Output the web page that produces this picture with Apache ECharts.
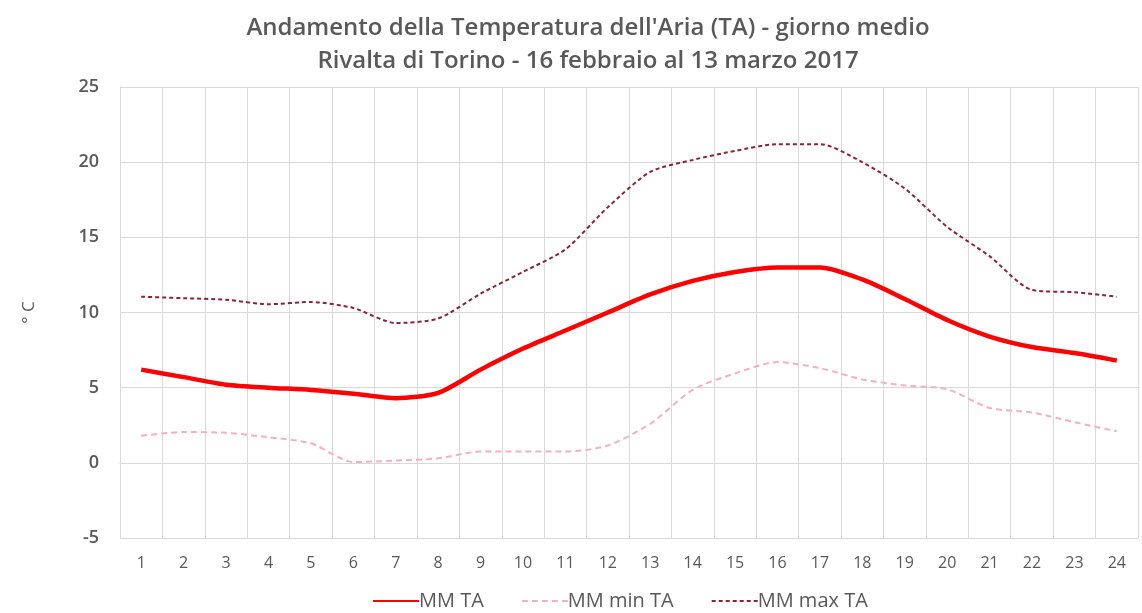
<!DOCTYPE html>
<html>
<head>
<meta charset="utf-8">
<script src="https://cdn.jsdelivr.net/npm/echarts@6/dist/echarts.min.js"></script>
<style>
html,body{margin:0;padding:0;background:#fff;}
#chart{width:1142px;height:613px;}
</style>
</head>
<body>
<div id="chart"></div>
<script>
const categories = ['1','2','3','4','5','6','7','8','9','10','11','12','13','14','15','16','17','18','19','20','21','22','23','24'];
const mmTA    = [6.2, 5.7, 5.2, 5.0, 4.85, 4.6, 4.3, 4.65, 6.2, 7.6, 8.8, 10.0, 11.2, 12.1, 12.7, 13.0, 13.0, 12.2, 10.9, 9.5, 8.4, 7.7, 7.3, 6.8];
const mmMinTA = [1.8, 2.05, 2.0, 1.7, 1.3, 0.05, 0.15, 0.3, 0.75, 0.75, 0.75, 1.15, 2.6, 4.85, 5.95, 6.7, 6.3, 5.55, 5.15, 4.9, 3.65, 3.35, 2.7, 2.1];
const mmMaxTA = [11.05, 10.95, 10.85, 10.55, 10.7, 10.3, 9.3, 9.6, 11.25, 12.7, 14.2, 17.0, 19.35, 20.15, 20.75, 21.2, 21.2, 20.0, 18.25, 15.7, 13.75, 11.5, 11.35, 11.05];
const yTicks = {min: -5, max: 25, interval: 5};

const chart = echarts.init(document.getElementById('chart'));
const fontFam = 'Open Sans';
chart.setOption({
  backgroundColor: '#fff',
  animation: false,
  title: {
    text: "Andamento della Temperatura dell'Aria (TA) - giorno medio\nRivalta di Torino - 16 febbraio al 13 marzo 2017",
    left: 583,
    textAlign: 'center',
    top: 7,
    textStyle: {color: '#595959', fontSize: 24, fontWeight: 600, fontFamily: fontFam, lineHeight: 33}
  },
  legend: {
    top: 586,
    left: 367,
    itemWidth: 46,
    itemHeight: 12,
    itemGap: 37,
    itemStyle: {opacity: 0},
    textStyle: {color: '#595959', fontSize: 20, fontFamily: fontFam, padding: [0, 0, 0, -5]},
    data: ['MM TA', 'MM min TA', 'MM max TA']
  },
  grid: {left: 120, right: 4, top: 87, bottom: 75},
  xAxis: {
    type: 'category',
    data: categories,
    boundaryGap: true,
    axisLine: {show: true, lineStyle: {color: '#D9D9D9'}},
    axisTick: {show: false},
    axisLabel: {color: '#595959', fontSize: 16, margin: 17, fontFamily: fontFam},
    splitLine: {show: true, interval: 0, lineStyle: {color: '#D9D9D9', width: 1}}
  },
  yAxis: {
    type: 'value',
    min: yTicks.min, max: yTicks.max, interval: yTicks.interval,
    name: '° C',
    nameLocation: 'middle',
    nameGap: 82,
    nameRotate: 90,
    nameTextStyle: {color: '#595959', fontSize: 17, fontFamily: fontFam},
    axisLine: {show: true, lineStyle: {color: '#D9D9D9'}},
    axisTick: {show: false},
    axisLabel: {color: '#595959', fontSize: 18, fontWeight: 600, margin: 21, fontFamily: fontFam},
    splitLine: {show: true, lineStyle: {color: '#D9D9D9', width: 1}}
  },
  series: [
    {name: 'MM TA', type: 'line', data: mmTA, symbol: 'none', smooth: 0.25,
     lineStyle: {color: '#FF0000', width: 4.5}, itemStyle: {color: '#FF0000'}, z: 3},
    {name: 'MM min TA', type: 'line', data: mmMinTA, symbol: 'none', smooth: 0.25,
     lineStyle: {color: '#F4B0BE', width: 2, type: [6, 4]}, itemStyle: {color: '#F4B0BE'}, z: 2},
    {name: 'MM max TA', type: 'line', data: mmMaxTA, symbol: 'none', smooth: 0.25,
     lineStyle: {color: '#8B2535', width: 2, type: [4, 3]}, itemStyle: {color: '#8B2535'}, z: 2}
  ]
});
</script>
</body>
</html>
